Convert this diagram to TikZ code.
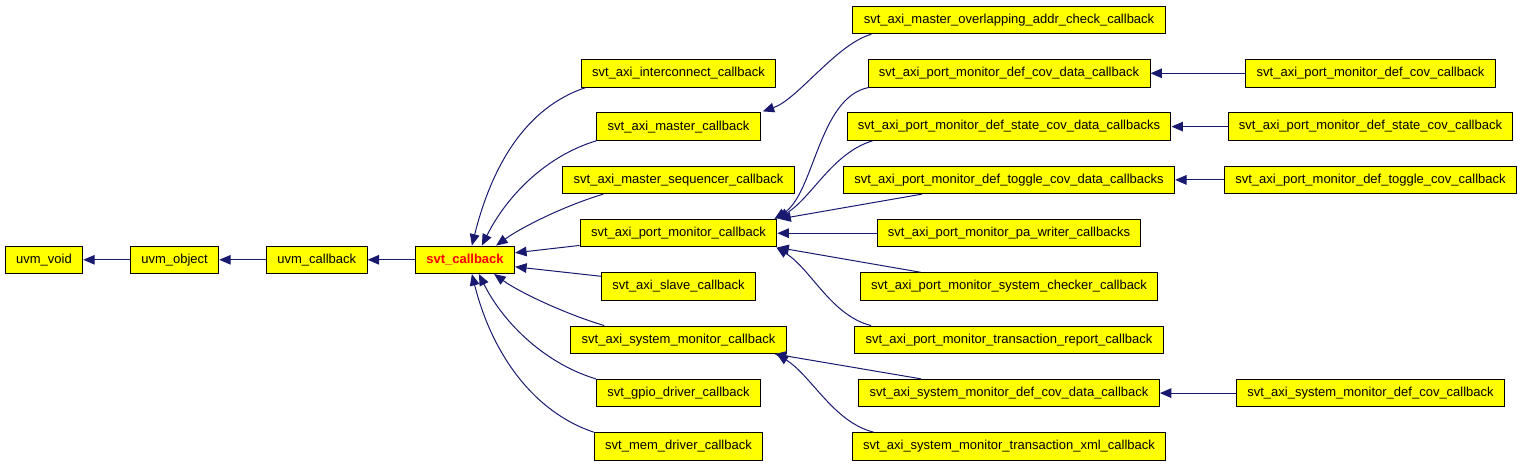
\documentclass[tikz,border=0pt]{standalone}
\usepackage{fontspec}
\setmainfont{Liberation Sans}
\usetikzlibrary{arrows.meta,calc}
\definecolor{clsyellow}{HTML}{FFFF00}
\definecolor{edgeblue}{HTML}{191970}
\tikzset{
  cls/.style={draw=black, fill=clsyellow, line width=0.75pt, inner xsep=8.2pt, inner ysep=0pt,
    minimum height=20.6pt, font=\fontsize{9.75}{11}\selectfont},
  edge/.style={draw=edgeblue, line width=0.75pt, -{Triangle[length=8.6pt,width=7.2pt]}},
}
\begin{document}
\begin{tikzpicture}[x=0.75pt,y=-0.75pt]
  \useasboundingbox (0,0) rectangle (1523,467);

  % Base chain
  \node[cls] (uvmvoid) at (44,259.8) {uvm\_void};
  \node[cls] (uvmobject) at (174.6,259.8) {uvm\_object};
  \node[cls] (uvmcb) at (316.8,259.8) {uvm\_callback};
  \node[cls, text=red, font=\fontsize{9.75}{11}\selectfont\bfseries] (svtcb) at (465,259.8) {svt\_callback};

  % Direct children of svt_callback
  \node[cls] (icb) at (678.5,73.3) {svt\_axi\_interconnect\_callback};
  \node[cls] (mcb) at (678.5,126.6) {svt\_axi\_master\_callback};
  \node[cls] (mscb) at (678.5,179.9) {svt\_axi\_master\_sequencer\_callback};
  \node[cls] (pmcb) at (678.5,233.2) {svt\_axi\_port\_monitor\_callback};
  \node[cls] (scb) at (678.5,286.5) {svt\_axi\_slave\_callback};
  \node[cls] (smcb) at (678.5,339.8) {svt\_axi\_system\_monitor\_callback};
  \node[cls] (gcb) at (678.5,393.1) {svt\_gpio\_driver\_callback};
  \node[cls] (memcb) at (678.5,446.4) {svt\_mem\_driver\_callback};

  % Third level
  \node[cls] (ovl) at (1009,20) {svt\_axi\_master\_overlapping\_addr\_check\_callback};
  \node[cls] (pmdcd) at (1009,73.3) {svt\_axi\_port\_monitor\_def\_cov\_data\_callback};
  \node[cls] (pmdsc) at (1009,126.6) {svt\_axi\_port\_monitor\_def\_state\_cov\_data\_callbacks};
  \node[cls] (pmdtc) at (1009,179.9) {svt\_axi\_port\_monitor\_def\_toggle\_cov\_data\_callbacks};
  \node[cls] (pmpa) at (1009,233.2) {svt\_axi\_port\_monitor\_pa\_writer\_callbacks};
  \node[cls] (pmsys) at (1009,286.5) {svt\_axi\_port\_monitor\_system\_checker\_callback};
  \node[cls] (pmtr) at (1009,339.8) {svt\_axi\_port\_monitor\_transaction\_report\_callback};
  \node[cls] (smdcd) at (1009,393.1) {svt\_axi\_system\_monitor\_def\_cov\_data\_callback};
  \node[cls] (smxml) at (1009,446.4) {svt\_axi\_system\_monitor\_transaction\_xml\_callback};

  % Fourth level
  \node[cls] (pmdcov) at (1370.5,73.3) {svt\_axi\_port\_monitor\_def\_cov\_callback};
  \node[cls] (pmdstate) at (1370.5,126.6) {svt\_axi\_port\_monitor\_def\_state\_cov\_callback};
  \node[cls] (pmdtoggle) at (1370.5,179.9) {svt\_axi\_port\_monitor\_def\_toggle\_cov\_callback};
  \node[cls] (smdcov) at (1370.5,393.1) {svt\_axi\_system\_monitor\_def\_cov\_callback};

  % Inheritance edges, base chain
  \draw[edge] (uvmobject) -- (uvmvoid);
  \draw[edge] (uvmcb) -- (uvmobject);
  \draw[edge] (svtcb) -- (uvmcb);

  % Into svt_callback
  \draw[edge] ($(icb.south west)+(5,0)$) .. controls +(-60,20) and +(20,-80) .. ($(svtcb.north west)+(57,0)$);
  \draw[edge] (mcb.south west) .. controls +(-50,15) and +(25,-50) .. ($(svtcb.north west)+(67,0)$);
  \draw[edge] ($(mscb.south west)+(41,0)$) .. controls +(-40,12) and +(25,-18) .. ($(svtcb.north east)+(-19,0)$);
  \draw[edge] ($(pmcb.south west)+(0,-2)$) -- ($(svtcb.east)+(0,-7)$);
  \draw[edge] ($(scb.north west)+(0,4)$) -- ($(svtcb.east)+(0,7)$);
  \draw[edge] ($(smcb.north west)+(34,0)$) .. controls +(-40,-12) and +(25,18) .. ($(svtcb.south east)+(-21,0)$);
  \draw[edge] (gcb.north west) .. controls +(-50,-15) and +(25,50) .. ($(svtcb.south west)+(64,0)$);
  \draw[edge] (memcb.north west) .. controls +(-60,-20) and +(20,80) .. ($(svtcb.south west)+(57,0)$);

  % Into svt_axi_master_callback
  \draw[edge] ($(ovl.south west)+(19,0)$) .. controls +(-35,10) and +(35,-12) .. ($(mcb.north east)+(2,-1)$);

  % Into svt_axi_port_monitor_callback
  \draw[edge] ($(pmdcd.south west)+(1,0)$) .. controls +(-50,10) and +(40,-25) .. ($(pmcb.north east)+(-3,0)$);
  \draw[edge] ($(pmdsc.south west)+(26,0)$) .. controls +(-40,12) and +(35,-22) .. ($(pmcb.north east)+(0,0)$);
  \draw[edge] ($(pmdtc.south west)+(79,0)$) -- ($(pmcb.north east)+(2,0)$);
  \draw[edge] (pmpa) -- (pmcb);
  \draw[edge] ($(pmsys.north west)+(61,0)$) -- ($(pmcb.south east)+(0,0)$);
  \draw[edge] ($(pmtr.north west)+(17,0)$) .. controls +(-40,-10) and +(35,22) .. ($(pmcb.south east)+(-1,0)$);

  % Into svt_axi_system_monitor_callback
  \draw[edge] ($(smdcd.north west)+(63,0)$) -- ($(smcb.south east)+(-12,0)$);
  \draw[edge] ($(smxml.north west)+(22,0)$) .. controls +(-40,-10) and +(35,22) .. ($(smcb.south east)+(-10,0)$);

  % Fourth level into third level
  \draw[edge] (pmdcov) -- (pmdcd);
  \draw[edge] (pmdstate) -- (pmdsc);
  \draw[edge] (pmdtoggle) -- (pmdtc);
  \draw[edge] (smdcov) -- (smdcd);
\end{tikzpicture}
\end{document}
